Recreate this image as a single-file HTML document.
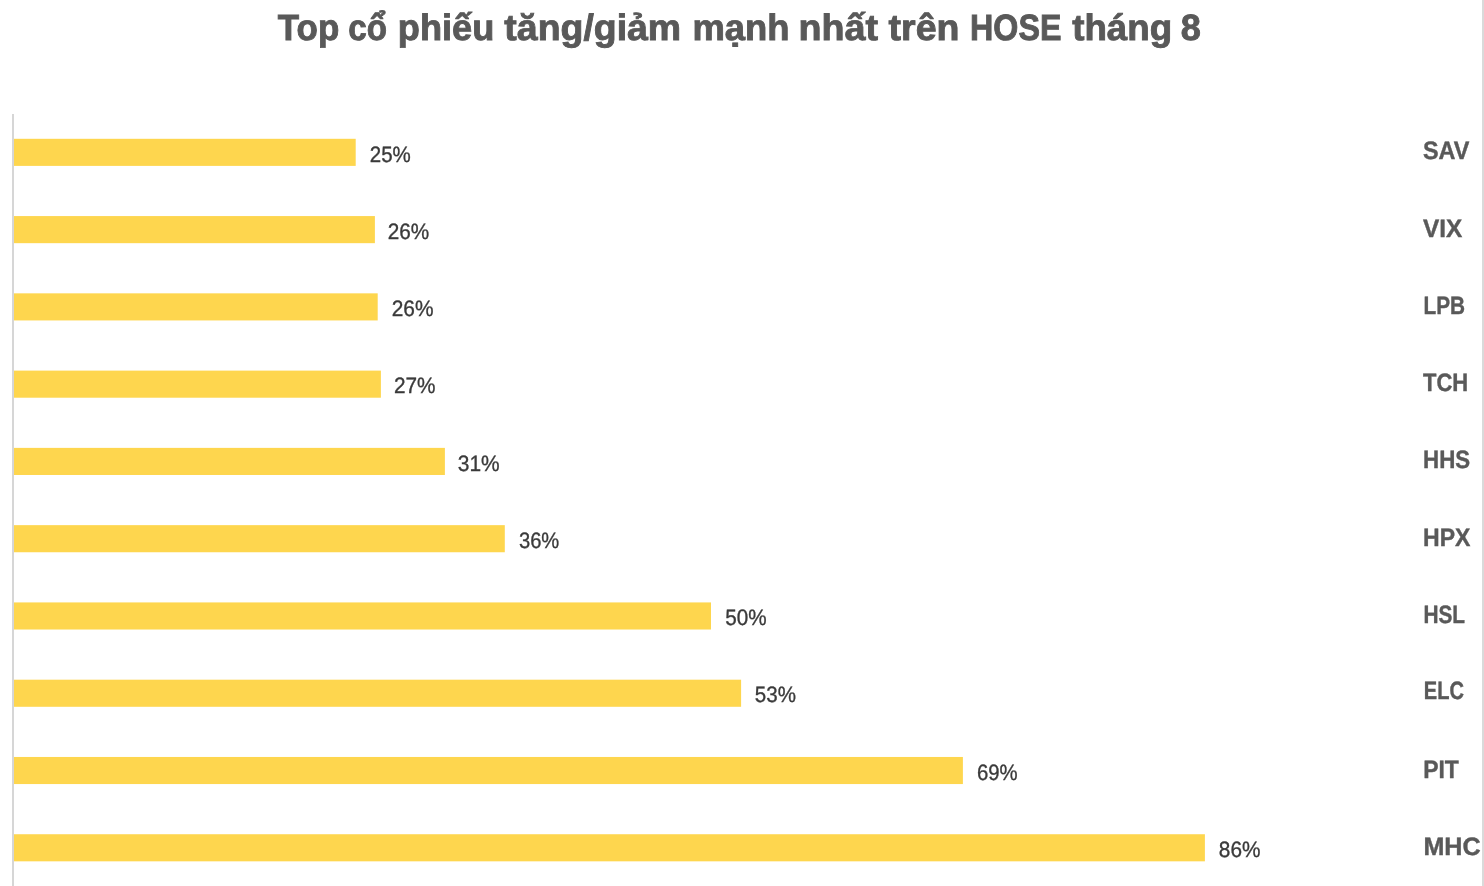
<!DOCTYPE html>
<html><head><meta charset="utf-8">
<style>
html,body{margin:0;padding:0;background:#fff;}
body{width:1484px;height:886px;overflow:hidden;}
svg{display:block;font-family:"Liberation Sans",sans-serif;text-rendering:geometricPrecision;will-change:transform;}
</style></head><body>
<svg width="1484" height="886" viewBox="0 0 1484 886">
<rect x="0" y="0" width="1484" height="886" fill="#ffffff"/>
<rect x="12" y="114" width="2" height="772" fill="#d6d6d6"/>
<rect x="1482" y="0" width="2" height="886" fill="#dadada"/>
<rect x="14.0" y="138.80" width="341.70" height="27.1" fill="#fed64e"/>
<rect x="14.0" y="216.07" width="360.90" height="27.1" fill="#fed64e"/>
<rect x="14.0" y="293.34" width="363.70" height="27.1" fill="#fed64e"/>
<rect x="14.0" y="370.61" width="366.90" height="27.1" fill="#fed64e"/>
<rect x="14.0" y="447.88" width="430.90" height="27.1" fill="#fed64e"/>
<rect x="14.0" y="525.15" width="490.80" height="27.1" fill="#fed64e"/>
<rect x="14.0" y="602.42" width="697.00" height="27.1" fill="#fed64e"/>
<rect x="14.0" y="679.69" width="727.10" height="27.1" fill="#fed64e"/>
<rect x="14.0" y="756.96" width="948.90" height="27.1" fill="#fed64e"/>
<rect x="14.0" y="834.23" width="1190.90" height="27.1" fill="#fed64e"/>
<text transform="translate(277.83,40.00) scale(0.9570,1)" font-size="36.50" font-weight="bold" fill="#595959" stroke="#595959" stroke-width="0.9" vector-effect="non-scaling-stroke">Top</text>
<text transform="translate(348.32,40.00) scale(0.9091,1)" font-size="36.50" font-weight="bold" fill="#595959" stroke="#595959" stroke-width="0.9" vector-effect="non-scaling-stroke">cổ</text>
<text transform="translate(397.81,40.00) scale(0.9914,1)" font-size="36.50" font-weight="bold" fill="#595959" stroke="#595959" stroke-width="0.9" vector-effect="non-scaling-stroke">phiếu</text>
<text transform="translate(504.36,40.00) scale(1.0256,1)" font-size="36.50" font-weight="bold" fill="#595959" stroke="#595959" stroke-width="0.9" vector-effect="non-scaling-stroke">tăng/giảm</text>
<text transform="translate(692.47,40.00) scale(0.9976,1)" font-size="36.50" font-weight="bold" fill="#595959" stroke="#595959" stroke-width="0.9" vector-effect="non-scaling-stroke">mạnh</text>
<text transform="translate(798.42,40.00) scale(1.0322,1)" font-size="36.50" font-weight="bold" fill="#595959" stroke="#595959" stroke-width="0.9" vector-effect="non-scaling-stroke">nhất</text>
<text transform="translate(888.58,40.00) scale(1.0278,1)" font-size="36.50" font-weight="bold" fill="#595959" stroke="#595959" stroke-width="0.9" vector-effect="non-scaling-stroke">trên</text>
<text transform="translate(970.04,40.00) scale(0.8830,1)" font-size="36.50" font-weight="bold" fill="#595959" stroke="#595959" stroke-width="0.9" vector-effect="non-scaling-stroke">HOSE</text>
<text transform="translate(1072.16,40.00) scale(1.0058,1)" font-size="36.50" font-weight="bold" fill="#595959" stroke="#595959" stroke-width="0.9" vector-effect="non-scaling-stroke">tháng</text>
<text transform="translate(1180.67,40.00) scale(0.9892,1)" font-size="36.50" font-weight="bold" fill="#595959" stroke="#595959" stroke-width="0.9" vector-effect="non-scaling-stroke">8</text>
<text transform="translate(369.79,162.00) scale(0.9235,1)" font-size="22.20" font-weight="normal" fill="#3a3a3a" stroke="#3a3a3a" stroke-width="0.35" vector-effect="non-scaling-stroke">25%</text>
<text transform="translate(1423.00,159.00) scale(0.9368,1)" font-size="25.00" font-weight="bold" fill="#595959" stroke="#595959" stroke-width="0.4" vector-effect="non-scaling-stroke">SAV</text>
<text transform="translate(387.79,239.00) scale(0.9342,1)" font-size="22.20" font-weight="normal" fill="#3a3a3a" stroke="#3a3a3a" stroke-width="0.35" vector-effect="non-scaling-stroke">26%</text>
<text transform="translate(1422.97,237.00) scale(0.9742,1)" font-size="25.00" font-weight="bold" fill="#595959" stroke="#595959" stroke-width="0.4" vector-effect="non-scaling-stroke">VIX</text>
<text transform="translate(391.65,316.00) scale(0.9416,1)" font-size="22.20" font-weight="normal" fill="#3a3a3a" stroke="#3a3a3a" stroke-width="0.35" vector-effect="non-scaling-stroke">26%</text>
<text transform="translate(1423.45,314.00) scale(0.8319,1)" font-size="25.00" font-weight="bold" fill="#595959" stroke="#595959" stroke-width="0.4" vector-effect="non-scaling-stroke">LPB</text>
<text transform="translate(393.90,393.00) scale(0.9370,1)" font-size="22.20" font-weight="normal" fill="#3a3a3a" stroke="#3a3a3a" stroke-width="0.35" vector-effect="non-scaling-stroke">27%</text>
<text transform="translate(1422.97,391.00) scale(0.8790,1)" font-size="25.00" font-weight="bold" fill="#595959" stroke="#595959" stroke-width="0.4" vector-effect="non-scaling-stroke">TCH</text>
<text transform="translate(457.81,471.00) scale(0.9429,1)" font-size="22.20" font-weight="normal" fill="#3a3a3a" stroke="#3a3a3a" stroke-width="0.35" vector-effect="non-scaling-stroke">31%</text>
<text transform="translate(1423.10,468.00) scale(0.8915,1)" font-size="25.00" font-weight="bold" fill="#595959" stroke="#595959" stroke-width="0.4" vector-effect="non-scaling-stroke">HHS</text>
<text transform="translate(518.92,548.00) scale(0.9090,1)" font-size="22.20" font-weight="normal" fill="#3a3a3a" stroke="#3a3a3a" stroke-width="0.35" vector-effect="non-scaling-stroke">36%</text>
<text transform="translate(1423.04,546.00) scale(0.9210,1)" font-size="25.00" font-weight="bold" fill="#595959" stroke="#595959" stroke-width="0.4" vector-effect="non-scaling-stroke">HPX</text>
<text transform="translate(725.14,625.00) scale(0.9316,1)" font-size="22.20" font-weight="normal" fill="#3a3a3a" stroke="#3a3a3a" stroke-width="0.35" vector-effect="non-scaling-stroke">50%</text>
<text transform="translate(1423.38,623.00) scale(0.8327,1)" font-size="25.00" font-weight="bold" fill="#595959" stroke="#595959" stroke-width="0.4" vector-effect="non-scaling-stroke">HSL</text>
<text transform="translate(754.80,702.00) scale(0.9262,1)" font-size="22.20" font-weight="normal" fill="#3a3a3a" stroke="#3a3a3a" stroke-width="0.35" vector-effect="non-scaling-stroke">53%</text>
<text transform="translate(1423.83,699.00) scale(0.8021,1)" font-size="25.00" font-weight="bold" fill="#595959" stroke="#595959" stroke-width="0.4" vector-effect="non-scaling-stroke">ELC</text>
<text transform="translate(976.99,780.00) scale(0.9167,1)" font-size="22.20" font-weight="normal" fill="#3a3a3a" stroke="#3a3a3a" stroke-width="0.35" vector-effect="non-scaling-stroke">69%</text>
<text transform="translate(1423.17,778.00) scale(0.9181,1)" font-size="25.00" font-weight="bold" fill="#595959" stroke="#595959" stroke-width="0.4" vector-effect="non-scaling-stroke">PIT</text>
<text transform="translate(1218.84,857.00) scale(0.9374,1)" font-size="22.20" font-weight="normal" fill="#3a3a3a" stroke="#3a3a3a" stroke-width="0.35" vector-effect="non-scaling-stroke">86%</text>
<text transform="translate(1423.39,855.00) scale(1.0047,1)" font-size="25.00" font-weight="bold" fill="#595959" stroke="#595959" stroke-width="0.4" vector-effect="non-scaling-stroke">MHC</text>
</svg>
</body></html>
